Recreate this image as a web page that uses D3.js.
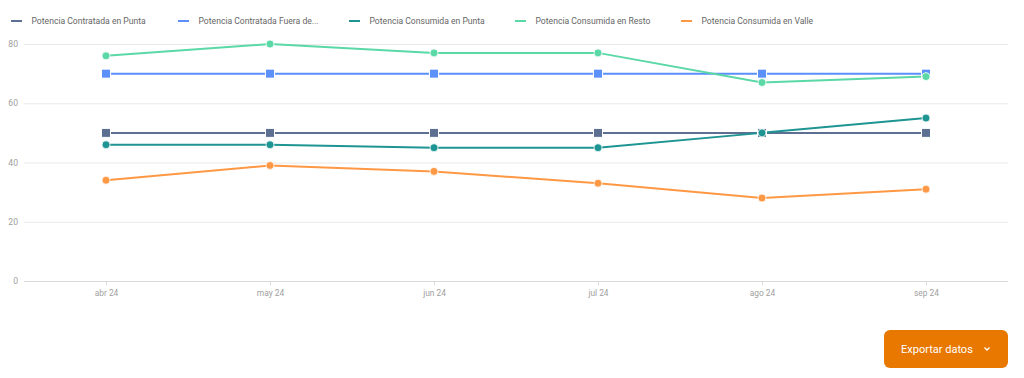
<!DOCTYPE html>
<html><head><meta charset="utf-8">
<script src="https://cdn.jsdelivr.net/npm/d3@7"></script>
<style>
html,body{margin:0;padding:0;background:#fff;font-family:Roboto,"Noto Sans",sans-serif;}
svg{display:block;}
</style></head><body>
<svg id="c" width="1024" height="378"></svg>
<script>
const months = ["abr 24","may 24","jun 24","jul 24","ago 24","sep 24"];
const yTicks = [0,20,40,60,80];
const seriesNames = ["Potencia Contratada en Punta","Potencia Contratada Fuera de...","Potencia Consumida en Punta","Potencia Consumida en Resto","Potencia Consumida en Valle"];
const contratadaPunta = [50,50,50,50,50,50];
const contratadaFuera = [70,70,70,70,70,70];
const consumidaPunta = [46,46,45,45,50,55];
const consumidaResto = [76,80,77,77,67,69];
const consumidaValle = [34,39,37,33,28,31];
const colors = ["#5D7092","#5B8FF9","#1E9493","#5AD8A6","#FF9845"];
const shapes = ["square","square","circle","circle","circle"];

const svg = d3.select("#c");
const x = d3.scalePoint().domain(months).range([24,1008]).padding(0.5);
const y = d3.scaleLinear().domain([0,80]).range([281,44]);

// grid
svg.append("g").selectAll("line").data(yTicks.filter(d=>d>0)).join("line")
  .attr("x1",24).attr("x2",1008).attr("y1",d=>y(d)+0.5).attr("y2",d=>y(d)+0.5)
  .attr("stroke","#e8e8e8").attr("stroke-width",1);
// y labels
svg.append("g").selectAll("text").data(yTicks).join("text")
  .attr("x",18).attr("y",d=>y(d)).attr("dy","0.35em").attr("text-anchor","end")
  .attr("font-size",8.6).attr("fill","#a0a0a0").text(d=>d);
// x axis
const xa = svg.append("g").attr("transform","translate(0,281)")
  .call(d3.axisBottom(x).tickSize(4).tickPadding(5).tickSizeOuter(0));
xa.select(".domain").attr("stroke","#d9d9d9").attr("d","M24,0.5H1008");
xa.selectAll(".tick line").attr("stroke","#d9d9d9");
xa.selectAll(".tick text").attr("fill","#a0a0a0").attr("font-size",8.4).attr("font-family","Roboto,sans-serif");

const all = [contratadaPunta,contratadaFuera,consumidaPunta,consumidaResto,consumidaValle];
const line = d3.line().x((d,i)=>x(months[i])).y(d=>y(d));
const drawOrder = [0,1,2,3,4];
drawOrder.forEach(s=>{
  svg.append("path").datum(all[s]).attr("d",line).attr("fill","none")
    .attr("stroke",colors[s]).attr("stroke-width",2);
});
drawOrder.forEach(s=>{
  const g = svg.append("g");
  if(shapes[s]==="square"){
    g.selectAll("rect").data(all[s]).join("rect")
      .attr("x",(d,i)=>x(months[i])-4.5).attr("y",d=>y(d)-4.5)
      .attr("width",9).attr("height",9).attr("fill",colors[s])
      .attr("stroke","#fff").attr("stroke-width",1);
  } else {
    g.selectAll("circle").data(all[s]).join("circle")
      .attr("cx",(d,i)=>x(months[i])).attr("cy",d=>y(d)).attr("r",4)
      .attr("fill",colors[s]).attr("stroke","#fff").attr("stroke-width",0.8);
  }
});

// legend
const legX = [11,178,349,515,681];
const lg = svg.append("g").selectAll("g").data(seriesNames).join("g")
  .attr("transform",(d,i)=>`translate(${legX[i]},21)`);
lg.append("line").attr("x1",0).attr("x2",11).attr("y1",0).attr("y2",0)
  .attr("stroke",(d,i)=>colors[i]).attr("stroke-width",2);
lg.append("text").attr("x",20.5).attr("dy","0.35em").attr("font-size",8.6)
  .attr("fill","#666").text(d=>d);

// button
const btn = svg.append("g").attr("transform","translate(884,330)");
btn.append("rect").attr("width",124).attr("height",38).attr("rx",6).attr("fill","#E87800");
btn.append("text").attr("x",17).attr("y",19).attr("dy","0.35em").attr("font-size",11)
  .attr("fill","#fff").text("Exportar datos");
btn.append("path").attr("d","M100.5,17.5 L103,20 L105.5,17.5").attr("fill","none")
  .attr("stroke","#fff").attr("stroke-width",1.3);
</script>
</body></html>
